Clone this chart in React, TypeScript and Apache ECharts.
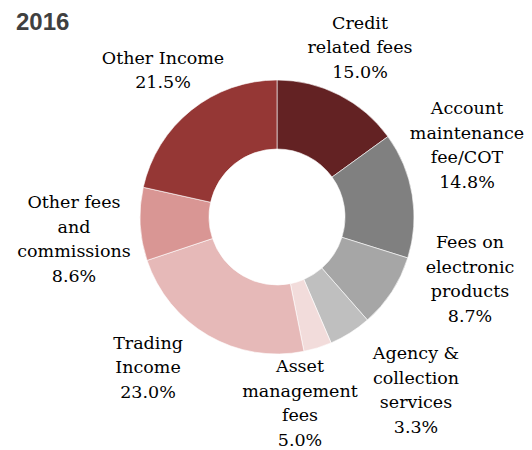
import React, { useEffect, useRef } from "react";
import * as echarts from "echarts";

const categories = [
  "Credit\nrelated fees",
  "Account\nmaintenance\nfee/COT",
  "Fees on\nelectronic\nproducts",
  "Asset\nmanagement\nfees",
  "Agency &\ncollection\nservices",
  "Trading\nIncome",
  "Other fees\nand\ncommissions",
  "Other Income",
];
const values = [15.0, 14.8, 8.7, 5.0, 3.3, 23.0, 8.6, 21.5];
const colors = ["#632223", "#808080", "#A6A6A6", "#BFBFBF", "#F2DCDB", "#E6B9B8", "#D99694", "#953735"];
const labelPos: [number, number][] = [
  [360, 47],
  [467, 145],
  [470, 279],
  [300, 403],
  [416, 390],
  [148, 367],
  [74, 239],
  [163, 70],
];

export default function App() {
  const ref = useRef<HTMLDivElement>(null);
  useEffect(() => {
    document.body.style.margin = "0";
    const chart = echarts.init(ref.current!, null, { renderer: "svg" });
    chart.setOption({
      animation: false,
      title: {
        text: "2016",
        left: 11,
        top: 4,
        textStyle: { fontFamily: "Liberation Sans", fontWeight: "bold", fontSize: 24, color: "#404040" },
      },
      series: [
        {
          type: "pie",
          center: [277, 217],
          radius: [68, 137],
          startAngle: 90,
          clockwise: true,
          avoidLabelOverlap: false,
          itemStyle: { borderColor: "#ffffff", borderWidth: 0.6 },
          label: {
            show: true,
            formatter: (p: any) => `${p.name}\n${p.value.toFixed(1)}%`,
            fontFamily: "DejaVu Serif",
            fontSize: 17.5,
            lineHeight: 24.5,
            color: "#000000",
            align: "center",
          },
          labelLine: { show: false },
          labelLayout: (params: any) => ({
            x: labelPos[params.dataIndex][0],
            y: labelPos[params.dataIndex][1],
            align: "center",
            verticalAlign: "middle",
          }),
          data: categories.map((c, i) => ({ name: c, value: values[i], itemStyle: { color: colors[i] } })),
        },
      ],
    });
    return () => chart.dispose();
  }, []);
  return <div ref={ref} style={{ width: 532, height: 450 }} />;
}
